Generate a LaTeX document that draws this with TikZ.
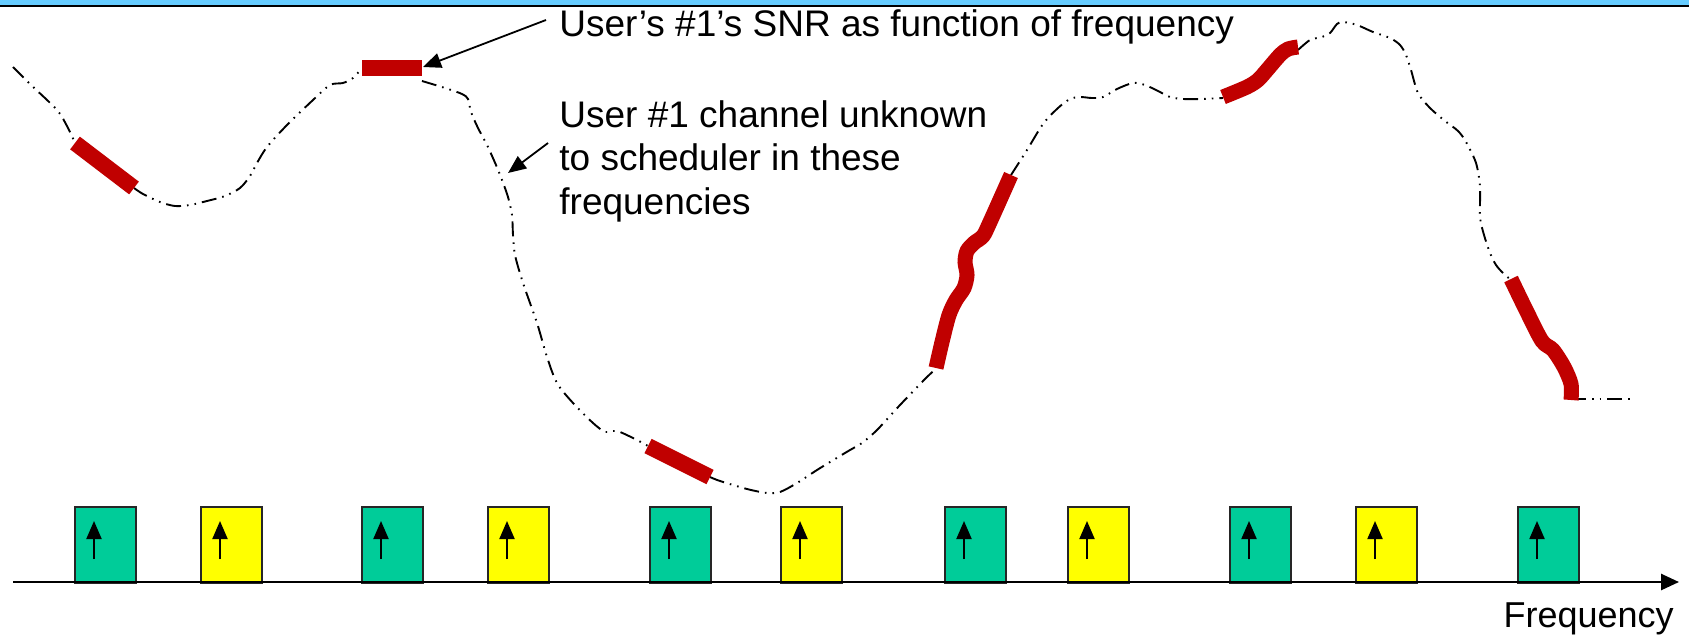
\documentclass[tikz,border=0pt]{standalone}
\usepackage{fontspec}
\setmainfont{Liberation Sans}
\usetikzlibrary{arrows.meta}
\definecolor{barblue}{HTML}{66CCFF}
\definecolor{snrred}{HTML}{C00000}
\definecolor{rbgreen}{HTML}{00CC99}
\definecolor{rbyellow}{HTML}{FFFF00}

\begin{document}
\begin{tikzpicture}[x=0.5pt,y=-0.5pt,
  channel/.style={line width=0.95pt,
    dash pattern=on 7.5pt off 3pt on 0.8pt off 3pt on 0.8pt off 3pt},
  known/.style={draw=snrred, line width=7.5pt},
  knownbar/.style={draw=snrred, line width=8pt},
  rbbox/.style={draw=black!85, line width=1pt, minimum width=30.5pt,
    minimum height=38pt, inner sep=0pt, anchor=north west},
  uparrow/.style={line width=1pt, -{Triangle[length=9pt,width=7.5pt]}},
  callout/.style={line width=0.9pt, -{Triangle[length=9pt,width=7.5pt]}},
  axisline/.style={line width=1.3pt, -{Triangle[length=9pt,width=8pt]}},
  lab/.style={font=\fontsize{18.5pt}{21.75pt}\selectfont, inner sep=0pt}
]
\useasboundingbox (0,0) rectangle (1689,637);

% top band
\fill[barblue] (0,0) rectangle (1689,5.2);
\draw[line width=1.15pt] (0,6.2) -- (1689,6.2);

% SNR curve, unknown parts
\draw[channel] plot[smooth, tension=0.5] coordinates {
  (13,67) (30,84) (57,110) (68,128) (75,143)};
\draw[channel] plot[smooth, tension=0.5] coordinates {
  (134,188) (143,194) (160,202) (175,206) (190,205) (207,201) (225,196)
  (240,188) (250,176) (257,163) (267,147) (287,125) (313,100) (330,85)
  (343,83) (353,78) (362,68)};
\draw[channel] plot[smooth, tension=0.5] coordinates {
  (422,81) (445,88) (462,94) (468,99) (471,112) (478,128) (487,145)
  (496,165) (502,180) (508,197) (512,215) (513,235) (515,255) (523,283)
  (537,323) (547,357) (557,383) (573,403) (593,423) (605,432) (612,431)
  (620,432) (637,440) (648,446)};
\draw[channel] plot[smooth, tension=0.5] coordinates {
  (710,477) (720,481) (747,489) (767,493) (780,492) (797,483) (817,470)
  (835,459) (850,450) (862,443) (877,430) (900,405) (927,377) (937,368)};
\draw[channel] plot[smooth, tension=0.5] coordinates {
  (1011,175) (1027,150) (1043,124) (1058,108) (1070,99) (1080,97)
  (1092,98) (1103,97) (1117,89) (1133,83) (1145,85) (1158,91) (1170,97)
  (1183,99) (1200,99) (1223,98)};
\draw[channel] plot[smooth, tension=0.5] coordinates {
  (1298,50) (1310,40) (1322,37) (1330,33) (1337,24) (1343,22) (1357,25)
  (1373,32) (1390,38) (1400,45) (1406,55) (1411,70) (1418,93) (1430,108)
  (1445,121) (1458,131) (1466,142) (1476,163) (1480,187) (1480,217)
  (1484,235) (1490,253) (1496,265) (1503,273) (1511,280)};
\draw[channel] (1571,399) -- (1633,399);

% SNR curve, parts known to the scheduler
\draw[knownbar] (75,143) -- (134,188);
\draw[knownbar] (362,67.5) -- (422,67.5);
\draw[knownbar] (648,446) -- (710,477);
\draw[known] plot[smooth, tension=0.5] coordinates {
  (936,368) (942,342) (949,315) (956,300) (964,288) (967,275) (965,262)
  (967,251) (974,243) (983,236) (990,222) (1011,175)};
\draw[known] plot[smooth, tension=0.5] coordinates {
  (1223,97) (1247,87) (1258,80) (1267,70) (1280,55) (1288,49) (1298,47)};
\draw[known] plot[smooth, tension=0.5] coordinates {
  (1511,279) (1527,312) (1542,341) (1553,350) (1564,367) (1571,384)
  (1571,400)};

% resource blocks
\foreach \x/\c [count=\i] in {74/rbgreen,200/rbyellow,361/rbgreen,
    487/rbyellow,649/rbgreen,780/rbyellow,944/rbgreen,1067/rbyellow,
    1229/rbgreen,1355/rbyellow,1517/rbgreen} {
  \node[rbbox, fill=\c] (rb\i) at (\x,506) {};
  \draw[uparrow] ([shift={(10pt,-26.5pt)}]rb\i.north west)
    -- ([shift={(10pt,-7.5pt)}]rb\i.north west);
}

% frequency axis
\coordinate (ax0) at (13,582);
\coordinate (ax1) at (1679,582);
\draw[axisline] (ax0) -- (ax1);
\node[lab, font=\fontsize{18pt}{21pt}\selectfont, anchor=base east]
  (freqlab) at (1674,627) {Frequency};

% labels and callouts
\node[lab, anchor=base west] (snrlab) at (559,36)
  {User's \#1's SNR as function of frequency};
\node[lab, anchor=base west, align=left] (unklab) at (559,214)
  {User \#1 channel unknown\\to scheduler in these\\frequencies};
\coordinate (snrfrom) at (546,20);
\coordinate (snrtip) at (423,67);
\coordinate (unkfrom) at (548,143);
\coordinate (unktip) at (508,173);
\draw[callout] (snrfrom) -- (snrtip);
\draw[callout] (unkfrom) -- (unktip);
\end{tikzpicture}
\end{document}
